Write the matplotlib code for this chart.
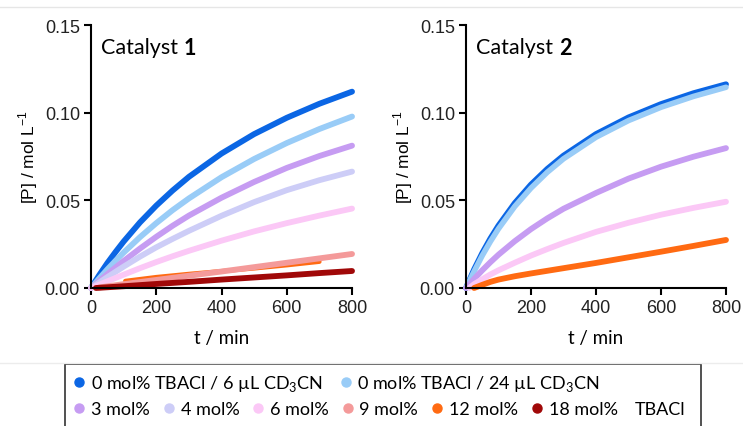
import matplotlib
matplotlib.use("Agg")
import matplotlib.pyplot as plt
from matplotlib.lines import Line2D
from matplotlib.patches import Rectangle

# time points (min)
t = [0, 25, 50, 75, 100, 150, 200, 250, 300, 400, 500, 600, 700, 800]

# Catalyst 1, [P] / mol L-1
c1_blue6 = [0, 0.0073, 0.0142, 0.0205, 0.0265, 0.0374, 0.0470, 0.0556, 0.0634, 0.0767, 0.0878, 0.0971, 0.1051, 0.1120]
c1_blue24 = [0, 0.0054, 0.0106, 0.0155, 0.0202, 0.0290, 0.0370, 0.0444, 0.0511, 0.0632, 0.0736, 0.0827, 0.0907, 0.0978]
c1_m3 = [0, 0.0040, 0.0079, 0.0117, 0.0154, 0.0225, 0.0292, 0.0355, 0.0413, 0.0515, 0.0605, 0.0685, 0.0753, 0.0812]
c1_m4 = [0, 0.0031, 0.0062, 0.0092, 0.0122, 0.0179, 0.0232, 0.0280, 0.0326, 0.0412, 0.0490, 0.0558, 0.0615, 0.0664]
c1_m6 = [0, 0.0019, 0.0038, 0.0057, 0.0076, 0.0113, 0.0148, 0.0181, 0.0212, 0.0270, 0.0323, 0.0370, 0.0413, 0.0453]
t_m9 = [25, 100, 200, 300, 400, 500, 600, 700, 800]
c1_m9 = [0.0003, 0.0022, 0.0046, 0.0070, 0.0094, 0.0119, 0.0144, 0.0169, 0.0194]
t_m12 = [105, 200, 300, 400, 500, 600, 700]
c1_m12 = [0.0040, 0.0062, 0.0080, 0.0096, 0.0112, 0.0130, 0.0150]
t_m18 = [15, 100, 200, 300, 400, 500, 600, 700, 800]
c1_m18 = [0.0, 0.0010, 0.0023, 0.0035, 0.0048, 0.0060, 0.0072, 0.0085, 0.0097]

# Catalyst 2
c2_blue6 = [0, 0.0106, 0.0199, 0.0282, 0.0356, 0.0484, 0.0590, 0.0679, 0.0755, 0.0878, 0.0973, 0.1049, 0.1111, 0.1162]
c2_blue24 = [0, 0.0095, 0.0185, 0.0265, 0.0338, 0.0465, 0.0570, 0.0660, 0.0737, 0.0860, 0.0955, 0.1031, 0.1093, 0.1145]
c2_m3 = [0, 0.0052, 0.0101, 0.0147, 0.0190, 0.0267, 0.0336, 0.0397, 0.0452, 0.0542, 0.0624, 0.0692, 0.0749, 0.0798]
t2_m6 = [10, 25, 50, 75, 100, 150, 200, 250, 300, 400, 500, 600, 700, 800]
c2_m6 = [0, 0.0022, 0.0050, 0.0077, 0.0101, 0.0144, 0.0185, 0.0222, 0.0257, 0.0320, 0.0372, 0.0418, 0.0457, 0.0492]
t2_m12 = [25, 50, 75, 100, 150, 200, 250, 300, 400, 500, 600, 700, 800]
c2_m12 = [0, 0.0018, 0.0035, 0.0048, 0.0067, 0.0083, 0.0098, 0.0113, 0.0143, 0.0175, 0.0207, 0.0240, 0.0274]

colors = {
    "blue6": "#0b66e4",
    "blue24": "#99ccf7",
    "m3": "#c69cf2",
    "m4": "#cdcdf7",
    "m6": "#fbc8f6",
    "m9": "#f49a9a",
    "m12": "#ff6a12",
    "m18": "#a00808",
}

num_font = "Liberation Sans"
txt_font = "Lato"
lw = 4.2
plt.rcParams["font.family"] = num_font

fig = plt.figure(figsize=(7.43, 4.27), dpi=100)
ax1 = fig.add_axes([0.1225, 0.3232, 0.3513, 0.6158])
ax2 = fig.add_axes([0.6272, 0.3232, 0.3499, 0.6158])

kw = dict(lw=lw, solid_capstyle="round", solid_joinstyle="round")
ax1.plot(t, c1_blue6, color=colors["blue6"], **kw)
ax1.plot(t, c1_blue24, color=colors["blue24"], **kw)
ax1.plot(t, c1_m3, color=colors["m3"], **kw)
ax1.plot(t, c1_m4, color=colors["m4"], **kw)
ax1.plot(t, c1_m6, color=colors["m6"], **kw)
ax1.plot(t_m12, c1_m12, color=colors["m12"], lw=3.2, solid_capstyle="round")
ax1.plot(t_m9, c1_m9, color=colors["m9"], **kw)
ax1.plot(t_m18, c1_m18, color=colors["m18"], **kw)

ax2.plot(t, c2_blue6, color=colors["blue6"], **kw)
ax2.plot(t, c2_blue24, color=colors["blue24"], lw=4.0, solid_capstyle="round",
         solid_joinstyle="round")
ax2.plot(t, c2_m3, color=colors["m3"], **kw)
ax2.plot(t2_m6, c2_m6, color=colors["m6"], **kw)
ax2.plot(t2_m12, c2_m12, color=colors["m12"], **kw)

for ax in (ax1, ax2):
    ax.set_xlim(0, 800)
    ax.set_ylim(0, 0.15)
    ax.set_xticks([0, 200, 400, 600, 800])
    ax.set_yticks([0, 0.05, 0.10, 0.15])
    ax.set_yticklabels(["0.00", "0.05", "0.10", "0.15"])
    ax.spines["top"].set_visible(False)
    ax.spines["right"].set_visible(False)
    for s in ("left", "bottom"):
        ax.spines[s].set_linewidth(1.5)
        ax.spines[s].set_color("black")
    ax.spines["left"].set_zorder(5)
    ax.tick_params(direction="out", length=5, width=1.5, labelsize=13, pad=3,
                   labelcolor="#222222", labelfontfamily=num_font)
    ax.set_xlabel("t / min", fontsize=13.5, fontfamily=txt_font, labelpad=9)
    ax.set_ylabel(r"[P] / mol L$^{\mathregular{-1}}$", fontsize=12.5,
                  fontfamily=num_font, labelpad=3)
    ax.text(0.04, 0.955, "Catalyst ", transform=ax.transAxes, fontsize=15.5,
            fontfamily=txt_font, va="top", ha="left")
    for ln in ax.lines:
        ln.set_clip_on(False)

# bold number after "Catalyst"
fig.canvas.draw()
for ax, num in [(ax1, "1"), (ax2, "2")]:
    bb = ax.texts[0].get_window_extent()
    ax.annotate(num, xy=(bb.x1, bb.y1), xycoords="figure pixels", fontsize=15.5,
                fontfamily=txt_font, fontweight="bold", va="top", ha="left")

# faint separator lines
fig.add_artist(Line2D([0, 1], [1 - 8 / 427, 1 - 8 / 427], color="#e6e6e6", lw=1))
fig.add_artist(Line2D([0, 1], [1 - 364 / 427, 1 - 364 / 427], color="#ececec", lw=1))

# legend box
fig.add_artist(Rectangle((65 / 743, -0.05), (701 - 65) / 743, 1 - 365 / 427 + 0.05,
                         transform=fig.transFigure, fill=True, facecolor="white",
                         edgecolor="#333333", lw=1.2))


def handle(c):
    return Line2D([], [], marker="o", ls="", color=c, markersize=6.5)


row1 = [handle(colors["blue6"]), handle(colors["blue24"])]
lab1 = [r"0 mol% TBACl / 6 µL CD$_\mathregular{3}$CN",
        r"0 mol% TBACl / 24 µL CD$_\mathregular{3}$CN"]
row2 = [handle(colors[k]) for k in ["m3", "m4", "m6", "m9", "m12", "m18"]]
lab2 = ["3 mol%", "4 mol%", "6 mol%", "9 mol%", "12 mol%", "18 mol%"]

legkw = dict(frameon=False, handlelength=0.6, handletextpad=0.35,
             borderpad=0, borderaxespad=0,
             prop={"family": txt_font, "size": 13})
leg1 = fig.legend(row1, lab1, ncol=2, loc="center left", columnspacing=0.95,
                  bbox_to_anchor=(74 / 743, 1 - 384 / 427), **legkw)
leg2 = fig.legend(row2, lab2, ncol=6, loc="center left", columnspacing=0.75,
                  bbox_to_anchor=(74 / 743, 1 - 410 / 427), **legkw)
fig.text(635 / 743, 1 - 410 / 427, "TBACl", fontsize=13, fontfamily=txt_font,
         va="center", ha="left")

fig.savefig("out.png", dpi=100)
